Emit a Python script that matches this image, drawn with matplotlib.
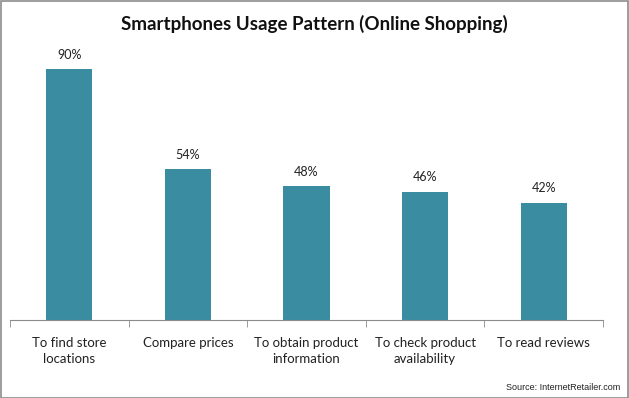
import matplotlib
matplotlib.use("Agg")
import matplotlib.pyplot as plt
from matplotlib.patches import Rectangle

categories = ["To find store\nlocations", "Compare prices", "To obtain product\ninformation",
              "To check product\navailability", "To read reviews"]
values = [90, 54, 48, 46, 42]
value_labels = ["90%", "54%", "48%", "46%", "42%"]

plt.rcParams['font.family'] = ['Lato', 'DejaVu Sans']

W, H = 629, 398
fig = plt.figure(figsize=(W/100, H/100), dpi=100)
fig.patch.set_facecolor("white")
fig.add_artist(Rectangle((0.5/W, 0.5/H), 1-1.5/W, 1-1.5/H, transform=fig.transFigure,
                         fill=False, edgecolor="#8c8c8c", linewidth=1.2))

ax_left, ax_right = 10/W, 603/W
ax_bottom = 1 - 320/H
ax_top = 1 - 41/H
ax = fig.add_axes([ax_left, ax_bottom, ax_right-ax_left, ax_top-ax_bottom])

x = list(range(len(categories)))
ax.bar(x, values, width=0.39, color="#3A8CA0")
for xi, v, lab in zip(x, values, value_labels):
    ax.text(xi, v + 3, lab, ha="center", va="bottom", fontsize=9, color="#222222")

ax.set_xlim(-0.5, len(categories) - 0.5)
ax.set_ylim(0, 100)
for s in ["top", "right", "left"]:
    ax.spines[s].set_visible(False)
ax.spines["bottom"].set_color("#8c8c8c")
ax.set_yticks([])
ax.set_xticks([i - 0.5 for i in range(len(categories) + 1)], minor=True)
ax.set_xticks(x)
ax.set_xticklabels(categories, fontsize=9.5, color="#222222", linespacing=1.4)
ax.tick_params(axis="x", which="major", length=0, pad=12)
ax.tick_params(axis="x", which="minor", length=5, color="#8c8c8c", direction="out")

fig.text(0.5, 1 - 24/H, "Smartphones Usage Pattern (Online Shopping)",
         ha="center", va="center", fontsize=13.5, fontweight="bold", color="#111111")
fig.text(620/W, 1 - 388/H, "Source: InternetRetailer.com", ha="right", va="center",
         fontsize=6.5, color="#222222", family=["Liberation Sans", "DejaVu Sans"])

fig.savefig("out.png", dpi=100)
